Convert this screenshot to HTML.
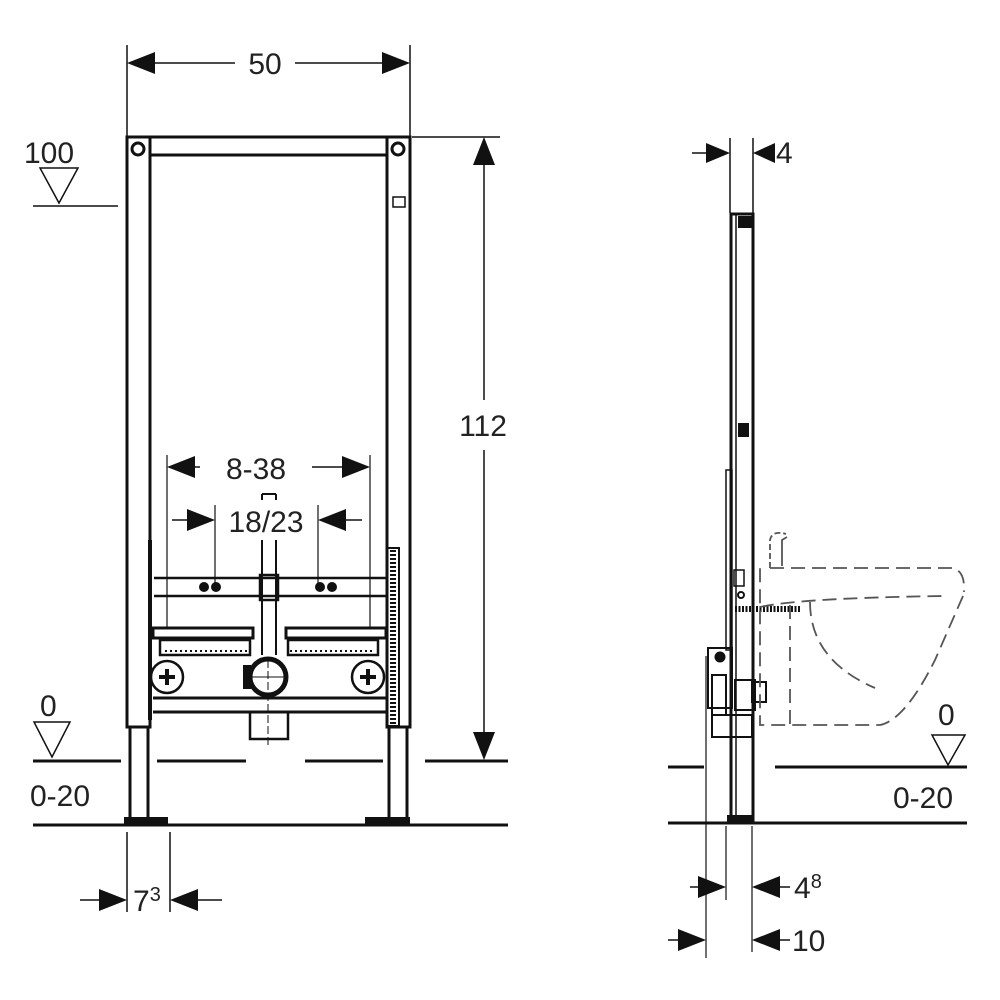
<!DOCTYPE html>
<html><head><meta charset="utf-8"><style>
html,body{margin:0;padding:0;background:#fff}
svg{display:block}
text{font-family:"Liberation Sans",sans-serif;fill:#222}
</style></head><body>
<svg width="1000" height="1000" viewBox="0 0 1000 1000" xmlns="http://www.w3.org/2000/svg">
<g stroke="#111" fill="none">
<!-- dimension 50 -->
<line x1="127" y1="45" x2="127" y2="137" stroke-width="1.5"/>
<line x1="410" y1="45" x2="410" y2="137" stroke-width="1.5"/>
<polygon points="127,63 155,52 155,74" fill="#111" stroke="none"/>
<polygon points="410,63 382,52 382,74" fill="#111" stroke="none"/>
<line x1="155" y1="63" x2="235" y2="63" stroke-width="1.5"/>
<line x1="295" y1="63" x2="382" y2="63" stroke-width="1.5"/>
<!-- 112 -->
<line x1="412" y1="137" x2="500" y2="137" stroke-width="1.5"/>
<polygon points="484,137 473,165 495,165" fill="#111" stroke="none"/>
<polygon points="484,760 473,732 495,732" fill="#111" stroke="none"/>
<line x1="484" y1="165" x2="484" y2="400" stroke-width="1.5"/>
<line x1="484" y1="450" x2="484" y2="732" stroke-width="1.5"/>

<!-- frame -->
<rect x="127" y="137" width="23" height="590" stroke-width="3"/>
<rect x="387" y="137" width="23" height="590" stroke-width="3"/>
<line x1="150" y1="137" x2="387" y2="137" stroke-width="3"/>
<line x1="150" y1="155" x2="387" y2="155" stroke-width="3"/>
<circle cx="138" cy="149" r="6" stroke-width="3"/>
<circle cx="398" cy="149" r="6" stroke-width="3"/>
<rect x="393" y="197" width="12" height="10" stroke-width="1.5"/>
<!-- legs -->
<line x1="130" y1="727" x2="130" y2="820" stroke-width="3"/>
<line x1="148" y1="727" x2="148" y2="820" stroke-width="3"/>
<line x1="389" y1="727" x2="389" y2="820" stroke-width="3"/>
<line x1="407" y1="727" x2="407" y2="820" stroke-width="3"/>
<rect x="124" y="817" width="44" height="8" fill="#111" stroke="none"/>
<rect x="365" y="817" width="45" height="8" fill="#111" stroke="none"/>
<!-- floor lines front -->
<line x1="33" y1="761" x2="121" y2="761" stroke-width="3"/>
<line x1="157" y1="761" x2="246" y2="761" stroke-width="3"/>
<line x1="305" y1="761" x2="383" y2="761" stroke-width="3"/>
<line x1="425" y1="761" x2="508" y2="761" stroke-width="3"/>
<line x1="33" y1="825" x2="508" y2="825" stroke-width="3"/>
<!-- 100 level -->
<path d="M40,168 L78,168 L59,203 Z" stroke-width="1.5"/>
<line x1="33" y1="206" x2="118" y2="206" stroke-width="1.5"/>
<path d="M34,722 L70,722 L52,757 Z" stroke-width="1.5"/>

<!-- inner mechanism -->
<line x1="150" y1="540" x2="150" y2="720" stroke-width="4"/>
<rect x="387" y="548" width="12" height="178" stroke-width="2"/>
<line x1="393" y1="550" x2="393" y2="724" stroke-width="6" stroke-dasharray="2,2"/>
<line x1="154" y1="578" x2="386" y2="578" stroke-width="2.5"/>
<line x1="154" y1="596" x2="386" y2="596" stroke-width="2.5"/>
<circle cx="204" cy="587" r="4.5" fill="#111"/><circle cx="216" cy="587" r="4.5" fill="#111"/>
<circle cx="320" cy="587" r="4.5" fill="#111"/><circle cx="332" cy="587" r="4.5" fill="#111"/>
<rect x="260" y="575" width="18" height="25" stroke-width="2.5"/>
<line x1="262" y1="540" x2="262" y2="655" stroke-width="2"/>
<line x1="276" y1="540" x2="276" y2="655" stroke-width="2"/>
<path d="M262,494 L262,500 M276,494 L276,500 M262,494 L276,494" stroke-width="2"/>
<rect x="153" y="628" width="100" height="10" stroke-width="3"/>
<rect x="286" y="628" width="100" height="10" stroke-width="3"/>
<rect x="160" y="640" width="90" height="15" stroke-width="2.5"/>
<rect x="288" y="640" width="90" height="15" stroke-width="2.5"/>
<line x1="165" y1="651" x2="248" y2="651" stroke-width="2" stroke-dasharray="2,3"/>
<line x1="290" y1="651" x2="374" y2="651" stroke-width="2" stroke-dasharray="2,3"/>
<circle cx="167" cy="677" r="16" stroke-width="2.5"/>
<path d="M159,677 h16 M167,669 v16" stroke-width="4"/>
<circle cx="368" cy="677" r="16" stroke-width="2.5"/>
<path d="M360,677 h16 M368,669 v16" stroke-width="4"/>
<circle cx="268" cy="677" r="18" stroke-width="5"/>
<rect x="243" y="665" width="8" height="24" fill="#111" stroke="none"/>
<line x1="250" y1="677" x2="286" y2="677" stroke-width="1"/>
<line x1="268" y1="660" x2="268" y2="745" stroke-width="1" stroke-dasharray="8,3"/>
<line x1="153" y1="698" x2="386" y2="698" stroke-width="3"/>
<line x1="153" y1="712" x2="386" y2="712" stroke-width="3"/>
<rect x="250" y="712" width="38" height="27" stroke-width="2.5"/>

<!-- 8-38 -->
<line x1="167" y1="455" x2="167" y2="628" stroke-width="1.2"/>
<line x1="370" y1="455" x2="370" y2="628" stroke-width="1.2"/>
<polygon points="167,467 195,456 195,478" fill="#111" stroke="none"/>
<polygon points="370,467 342,456 342,478" fill="#111" stroke="none"/>
<line x1="195" y1="467" x2="200" y2="467" stroke-width="1.5"/>
<line x1="312" y1="467" x2="342" y2="467" stroke-width="1.5"/>
<!-- 18/23 -->
<line x1="215" y1="505" x2="215" y2="590" stroke-width="1.2"/>
<line x1="318" y1="505" x2="318" y2="590" stroke-width="1.2"/>
<polygon points="215,520 187,509 187,531" fill="#111" stroke="none"/>
<polygon points="318,520 346,509 346,531" fill="#111" stroke="none"/>
<line x1="172" y1="520" x2="187" y2="520" stroke-width="1.5"/>
<line x1="346" y1="520" x2="362" y2="520" stroke-width="1.5"/>
<!-- 7^3 -->
<line x1="127" y1="832" x2="127" y2="912" stroke-width="1.5"/>
<line x1="170" y1="832" x2="170" y2="912" stroke-width="1.5"/>
<polygon points="127,900 99,889 99,911" fill="#111" stroke="none"/>
<polygon points="170,900 198,889 198,911" fill="#111" stroke="none"/>
<line x1="80" y1="900" x2="99" y2="900" stroke-width="1.5"/>
<line x1="198" y1="900" x2="222" y2="900" stroke-width="1.5"/>

<!-- SIDE VIEW -->
<line x1="730" y1="138" x2="730" y2="213" stroke-width="1.5"/>
<line x1="753" y1="138" x2="753" y2="213" stroke-width="1.5"/>
<polygon points="730,153 706,143 706,163" fill="#111" stroke="none"/>
<polygon points="753,153 775,143 775,163" fill="#111" stroke="none"/>
<line x1="692" y1="153" x2="706" y2="153" stroke-width="1.5"/>
<rect x="731" y="214" width="22" height="608" stroke-width="3"/>
<line x1="736" y1="214" x2="736" y2="822" stroke-width="1.5"/>
<rect x="738" y="216" width="14" height="12" fill="#111" stroke="none"/>
<rect x="738" y="423" width="11" height="14" fill="#111" stroke="none"/>
<rect x="726" y="470" width="6" height="180" stroke-width="1.5"/>
<rect x="734" y="570" width="10" height="16" stroke-width="1.5"/>
<circle cx="741" cy="595" r="3" stroke-width="2"/>
<line x1="735" y1="609" x2="800" y2="609" stroke-width="6" stroke-dasharray="2,1.5"/>
<path d="M708,648 h24 v60 h-24 z" stroke-width="2"/>
<circle cx="720" cy="657" r="5" fill="#111"/>
<rect x="712" y="675" width="14" height="40" stroke-width="2"/>
<rect x="735" y="680" width="20" height="30" stroke-width="2"/>
<rect x="752" y="682" width="14" height="20" stroke-width="2"/>
<rect x="712" y="715" width="40" height="22" stroke-width="2"/>
<line x1="706" y1="656" x2="706" y2="958" stroke-width="1.2"/>
<line x1="726" y1="826" x2="726" y2="900" stroke-width="1.2"/>
<line x1="752" y1="826" x2="752" y2="952" stroke-width="1.2"/>
<rect x="727" y="815" width="25" height="8" fill="#111" stroke="none"/>
<!-- side floors -->
<line x1="668" y1="767" x2="704" y2="767" stroke-width="3"/>
<line x1="775" y1="767" x2="967" y2="767" stroke-width="3"/>
<line x1="668" y1="823" x2="967" y2="823" stroke-width="3"/>
<path d="M932,735 L965,735 L948,765 Z" stroke-width="1.5"/>
<!-- 4^8 -->
<polygon points="726,887 698,876 698,898" fill="#111" stroke="none"/>
<line x1="690" y1="887" x2="698" y2="887" stroke-width="1.5"/>
<polygon points="752,887 780,876 780,898" fill="#111" stroke="none"/>
<line x1="780" y1="887" x2="790" y2="887" stroke-width="1.5"/>
<!-- 10 -->
<polygon points="706,940 678,929 678,951" fill="#111" stroke="none"/>
<line x1="668" y1="940" x2="678" y2="940" stroke-width="1.5"/>
<polygon points="752,940 780,929 780,951" fill="#111" stroke="none"/>
<line x1="780" y1="940" x2="790" y2="940" stroke-width="1.5"/>
<!-- bidet dashed -->
<g stroke="#555" stroke-width="1.8" stroke-dasharray="14,7">
<path d="M770,568 L952,568 Q963,570 964,585 L964,592"/>
<path d="M963,596 L935,660 Q905,720 880,725 L760,725 L760,567"/>
<path d="M760,607 Q800,598 945,596"/>
<path d="M790,605 L790,725"/>
<path d="M810,602 Q810,660 875,688"/>
<path d="M770,568 L770,540 Q772,530 786,534" stroke-dasharray="6,3"/>
<path d="M782,566 L782,540 L787,537" stroke-dasharray="none"/>
</g>
</g>
<g font-size="30">
<text x="265" y="74" text-anchor="middle">50</text>
<text x="483" y="436" text-anchor="middle">112</text>
<text x="256" y="479" text-anchor="middle">8-38</text>
<text x="266" y="532" text-anchor="middle">18/23</text>
<text x="24" y="163">100</text>
<text x="40" y="716">0</text>
<text x="30" y="806">0-20</text>
<text x="133" y="911">7<tspan font-size="20" dy="-10">3</tspan></text>
<text x="776" y="163">4</text>
<text x="938" y="725">0</text>
<text x="893" y="808">0-20</text>
<text x="794" y="898">4<tspan font-size="20" dy="-10">8</tspan></text>
<text x="792" y="951">10</text>
</g>
</svg>
</body></html>
